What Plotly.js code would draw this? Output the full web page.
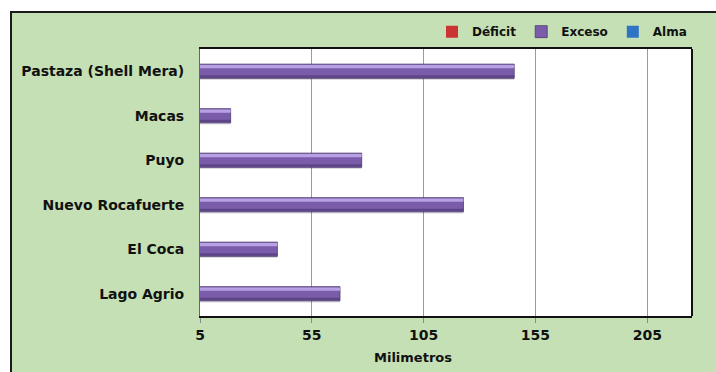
<!DOCTYPE html>
<html>
<head>
<meta charset="utf-8">
<script src="https://cdn.plot.ly/plotly-3.0.1.min.js"></script>
<style>
  html, body { margin: 0; padding: 0; background: #ffffff; width: 716px; height: 372px; overflow: hidden; }
  #frame { position: absolute; left: 10px; top: 11px; border-left: 2px solid #1a1a1a; border-top: 2px solid #1a1a1a; }
  #chart { width: 704px; height: 359px; }
</style>
</head>
<body>
<div id="frame"><div id="chart"></div></div>
<script>
// Estaciones (de arriba hacia abajo)
const estaciones = ['Pastaza (Shell Mera)', 'Macas', 'Puyo', 'Nuevo Rocafuerte', 'El Coca', 'Lago Agrio'];
// Valores en milímetros por serie
const deficit = [0, 0, 0, 0, 0, 0];
const exceso  = [145.5, 18.7, 77.3, 122.8, 39.6, 67.6];
const alma    = [0, 0, 0, 0, 0, 0];
// Marcas del eje X
const xTicks = [5, 55, 105, 155, 205];

const font = { family: 'DejaVu Sans, Liberation Sans, Arial, sans-serif', color: '#111111', weight: 700 };
const W = 0.32;           // grosor de barra (unidades de categoría)
const OFF = -W / 2;

function barTrace(name, values, color, extra) {
  return Object.assign({
    type: 'bar', orientation: 'h', name: name,
    x: values, y: estaciones,
    width: W, offset: OFF,
    marker: { color: color, line: { width: 0 } },
    hoverinfo: 'skip'
  }, extra || {});
}

const traces = [
  // sombra suave bajo las barras de exceso
  barTrace('sombra', exceso, 'rgba(40,40,40,0.16)', { offset: OFF + 0.035, showlegend: false }),
  barTrace('Déficit', deficit, '#cc3333'),
  barTrace('Exceso', exceso, '#7b5cab', { marker: { color: '#7b5cab', line: { color: '#4b3870', width: 0.8 } } }),
  barTrace('Alma', alma, '#2f74c4'),
  // bisel: franja clara superior y franja oscura inferior
  barTrace('brillo', exceso, '#b7a0e3', { width: 0.07, offset: OFF + 0.02, showlegend: false }),
  barTrace('borde', exceso, '#5d4586', { width: 0.055, offset: -OFF - 0.07, showlegend: false })
];

const layout = {
  width: 704, height: 359,
  margin: { l: 188, r: 24, t: 36, b: 56, autoexpand: false },
  paper_bgcolor: '#c5e0b4',
  plot_bgcolor: '#ffffff',
  barmode: 'overlay',
  font: Object.assign({ size: 14 }, font),
  showlegend: true,
  legend: {
    orientation: 'h', xanchor: 'right', x: 1.0, yanchor: 'middle', y: 1.065,
    bgcolor: 'rgba(0,0,0,0)', font: Object.assign({ size: 12 }, font),
    traceorder: 'normal'
  },
  xaxis: {
    range: [5, 225], tickvals: xTicks, ticktext: xTicks.map(String),
    ticks: 'outside', ticklen: 5, tickcolor: '#8c8c8c',
    showgrid: true, gridcolor: '#9a9a9a', gridwidth: 1,
    showline: true, mirror: true, linecolor: '#111111', linewidth: 2,
    zeroline: false, fixedrange: true, automargin: false,
    tickfont: Object.assign({ size: 14 }, font)
  },
  yaxis: {
    type: 'category', categoryorder: 'array', categoryarray: estaciones,
    range: [5.5, -0.5],
    showgrid: false, zeroline: false, ticks: '',
    showline: true, linecolor: '#666666', linewidth: 1,
    ticklabelstandoff: 12, fixedrange: true, automargin: false,
    tickfont: Object.assign({ size: 14 }, font)
  },
  shapes: [
    { type: 'line', xref: 'paper', yref: 'paper', x0: 1, x1: 1, y0: 0, y1: 1,
      line: { color: '#111111', width: 2 } }
  ],
  annotations: [
    { text: 'Milimetros', xref: 'paper', yref: 'paper', x: 0.433, y: -0.155,
      xanchor: 'center', yanchor: 'middle', showarrow: false,
      font: Object.assign({ size: 13 }, font) }
  ]
};

Plotly.newPlot('chart', traces, layout, { displayModeBar: false, staticPlot: true });
</script>
</body>
</html>
